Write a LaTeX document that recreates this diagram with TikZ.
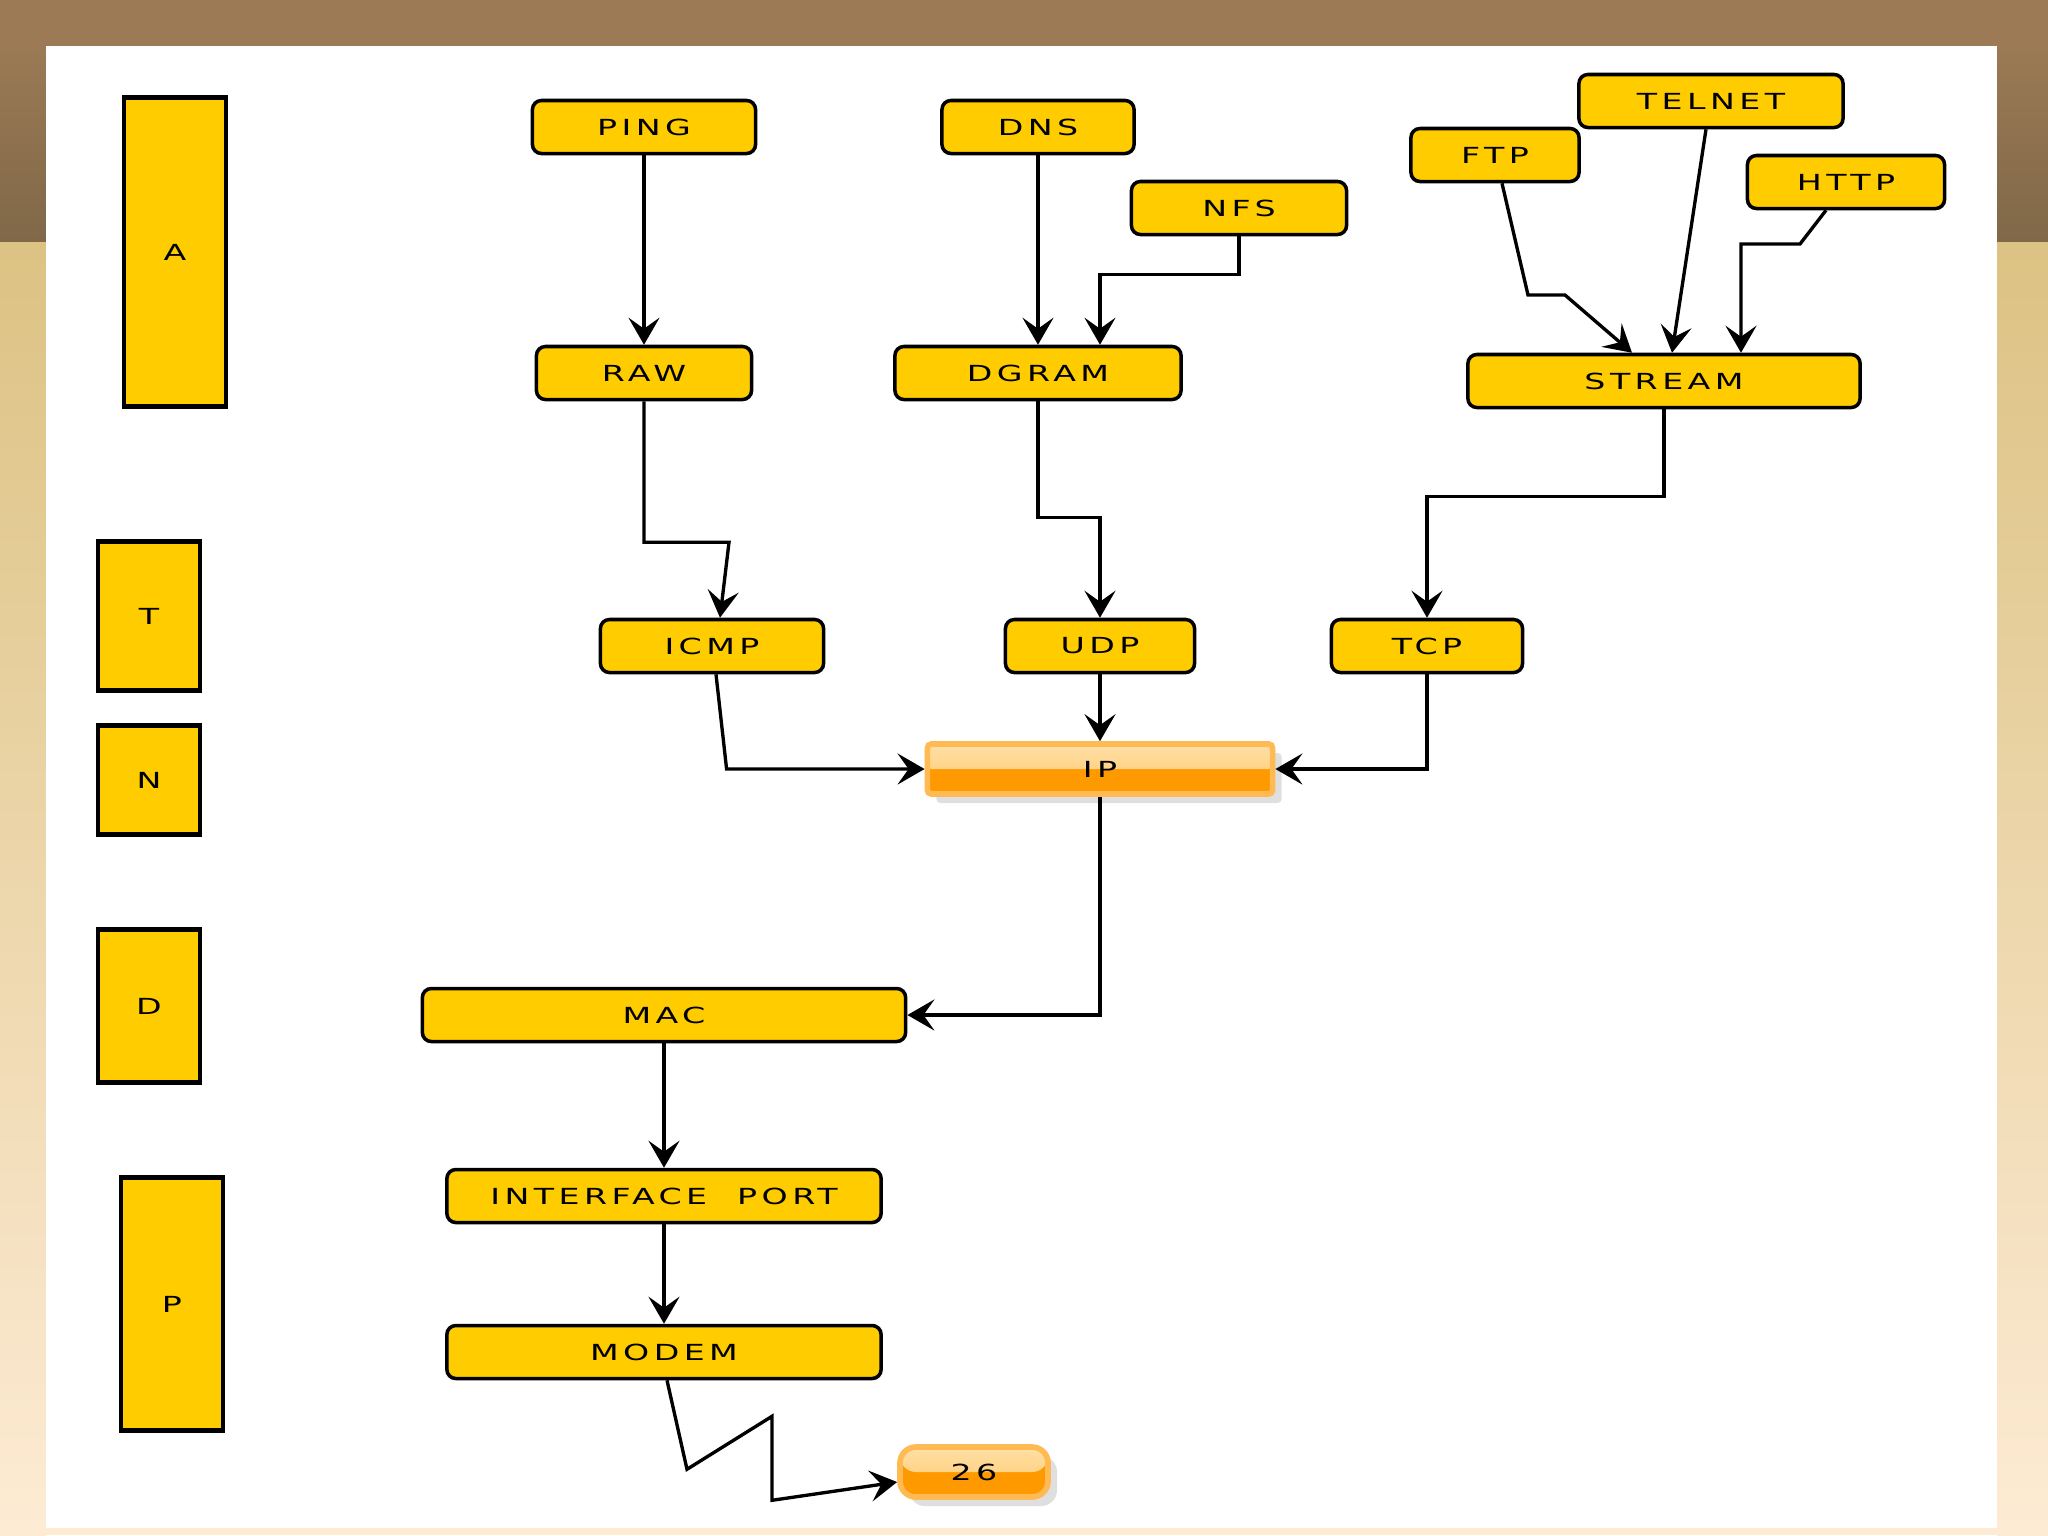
\documentclass[tikz,border=0pt]{standalone}
\usepackage{fontspec}
\newfontfamily\labelfont[FakeStretch=1.5,LetterSpace=20]{DejaVu Sans}
\usetikzlibrary{arrows.meta,positioning,calc,shadows}
\definecolor{LayerYellow}{RGB}{255,204,0}
\definecolor{GlossEdge}{RGB}{255,186,84}
\definecolor{GlossDeep}{RGB}{255,153,0}
\definecolor{GlossPale}{RGB}{255,224,166}
\definecolor{GlossMid}{RGB}{255,198,104}
\definecolor{FrameBrown}{RGB}{155,122,85}
\definecolor{FrameDark}{RGB}{128,104,72}
\definecolor{FrameTan}{RGB}{220,194,131}
\definecolor{FramePeach}{RGB}{253,216,155}
\definecolor{FrameCream}{RGB}{253,235,212}
\tikzset{
  layer/.style={draw=black,line width=1.3pt,fill=LayerYellow,
    minimum width=1.02cm,inner sep=0pt,font=\labelfont\fontsize{6.3pt}{7pt}\selectfont},
  proto/.style={draw=black,line width=1pt,fill=LayerYellow,rounded corners=0.9mm,
    minimum height=0.53cm,inner sep=0pt,font=\labelfont\fontsize{6.3pt}{7pt}\selectfont},
  glossy/.style={draw=GlossEdge,line width=1.6pt,fill=GlossDeep,
    minimum height=0.5cm,inner sep=0pt,font=\labelfont\fontsize{6.3pt}{7pt}\selectfont,
    drop shadow={shadow xshift=0.9mm,shadow yshift=-0.9mm,opacity=0.25},
    path picture={\fill[top color=GlossPale,bottom color=GlossMid]
      (path picture bounding box.north west) rectangle (path picture bounding box.east);}},
  arrow/.style={-{Stealth[length=2.7mm,width=3.1mm,inset=1.1mm]},line width=0.95pt}
}
\begin{document}
\begin{tikzpicture}[x=0.01cm,y=-0.01cm]
  \useasboundingbox (0,0) rectangle (2048,1535);
  % frame
  \fill[FrameBrown] (0,0) rectangle (2048,46);
  \shade[top color=FrameBrown,bottom color=FrameDark] (0,46) rectangle (46,242);
  \shade[top color=FrameBrown,bottom color=FrameDark] (1997,46) rectangle (2048,242);
  \shade[top color=FrameTan,middle color=FramePeach,bottom color=FrameCream] (0,242) rectangle (46,1535);
  \shade[top color=FrameTan,middle color=FramePeach,bottom color=FrameCream] (1997,242) rectangle (2048,1535);
  \fill[FrameCream] (46,1528) rectangle (1997,1535);
  \fill[white] (46,46) rectangle (1997,1528);
  % layers
  \node[layer,minimum height=3.09cm] (layA) at (175,252) {A};
  \node[layer,minimum height=1.49cm] (layT) at (149,616) {T};
  \node[layer,minimum height=1.09cm] (layN) at (149,780) {N};
  \node[layer,minimum height=1.53cm] (layD) at (149,1006) {D};
  \node[layer,minimum height=2.53cm] (layP) at (172,1304) {P};
  % protocols
  \node[proto,minimum width=2.23cm] (ping) at (644,127) {PING};
  \node[proto,minimum width=2.15cm] (raw) at (644,373) {RAW};
  \node[proto,minimum width=1.92cm] (dns) at (1038,127) {DNS};
  \node[proto,minimum width=2.15cm] (nfs) at (1239,208) {NFS};
  \node[proto,minimum width=2.86cm] (dgram) at (1038,373) {DGRAM};
  \node[proto,minimum width=1.68cm] (ftp) at (1495,155) {FTP};
  \node[proto,minimum width=2.64cm] (telnet) at (1711,101) {TELNET};
  \node[proto,minimum width=1.97cm] (http) at (1846,182) {HTTP};
  \node[proto,minimum width=3.92cm] (stream) at (1664,381) {STREAM};
  \node[proto,minimum width=2.23cm] (icmp) at (712,646) {ICMP};
  \node[proto,minimum width=1.89cm] (udp) at (1100,646) {UDP};
  \node[proto,minimum width=1.91cm] (tcp) at (1427,646) {TCP};
  \node[glossy,minimum width=3.45cm,rounded corners=0.4mm] (ip) at (1100,769) {IP};
  \node[proto,minimum width=4.83cm] (mac) at (664,1015) {MAC};
  \node[proto,minimum width=4.34cm] (iport) at (664,1196) {INTERFACE\ \ PORT};
  \node[proto,minimum width=4.34cm] (modem) at (664,1352) {MODEM};
  \node[glossy,minimum width=1.48cm,rounded corners=1.6mm] (n26) at (974,1472) {26};
  % links
  \draw[arrow] (ping) -- (raw);
  \draw[arrow] (dns) -- (dgram);
  \draw[arrow] (nfs.south) -- ++(0,38) -| (dgram.north -| udp.north);
  \draw[arrow] ($(ftp.south)+(7,0)$) -- (1528,295) -- (1565,295) -- ($(stream.north)+(-32,0)$);
  \draw[arrow] ($(telnet.south)+(-5,0)$) -- ($(stream.north)+(8,0)$);
  \draw[arrow] ($(http.south)+(-20,0)$) -- (1800,244) -- (1741,244) -- ($(stream.north)+(77,0)$);
  \draw[arrow] (raw.south) -- ++(0,141) -- ++(85,0) -- ($(icmp.north)+(8,0)$);
  \draw[arrow] (dgram.south) -- ++(0,116) -| (udp.north);
  \draw[arrow] (stream.south) -- ++(0,87) -| (tcp.north);
  \draw[arrow] ($(icmp.south)+(4,0)$) -- ($(ip.west)+(-198,0)$) -- (ip.west);
  \draw[arrow] (udp) -- (ip);
  \draw[arrow] (tcp.south) |- (ip.east);
  \draw[arrow] (ip.south) |- (mac.east);
  \draw[arrow] (mac) -- (iport);
  \draw[arrow] (iport) -- (modem);
  \draw[arrow] ($(modem.south)+(3,0)$) -- ++(20,89) -- ++(85,-53) -- ++(0,84) -- ($(n26.west)+(0,10)$);
\end{tikzpicture}
\end{document}
